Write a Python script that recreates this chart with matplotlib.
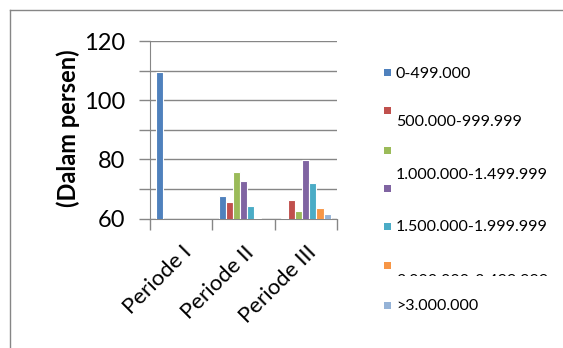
import numpy as np
import matplotlib.pyplot as plt
from matplotlib.lines import Line2D
from matplotlib.patches import Rectangle
from matplotlib.transforms import Bbox

# --- DATA ---
periods = ["Periode I", "Periode II", "Periode III"]
v_0_499 = [109.7, 67.6, 60.4]
v_500_999 = [0, 65.5, 66.4]
v_1000_1499 = [0, 75.7, 62.5]
v_purple = [0, 72.6, 79.8]
v_1500_1999 = [0, 64.4, 71.9]
v_2000_2499 = [0, 60.4, 63.5]
v_3000 = [0, 0, 61.5]
all_values = [v_0_499, v_500_999, v_1000_1499, v_purple,
              v_1500_1999, v_2000_2499, v_3000]
colors = ["#4F81BD", "#C0504D", "#9BBB59", "#8064A2", "#4BACC6", "#F79646", "#95B3D7"]
yticks = [60, 80, 100, 120]

plt.rcParams['font.family'] = ['Lato', 'DejaVu Sans']

W, H = 563, 348
fig = plt.figure(figsize=(W / 100, H / 100), dpi=100)
ax = fig.add_axes([150 / W, 1 - 218.7 / H, 187 / W, (218.7 - 41) / H])

# --- BARS ---
x = np.arange(len(periods))
slot = 0.114
for i, vals in enumerate(all_values):
    off = (i - 3) * slot
    ax.bar(x + off, vals, width=slot, color=colors[i], edgecolor="white",
           linewidth=0.8, zorder=3)

ax.set_ylim(60, 120)
ax.set_xlim(-0.5, 2.5)
ax.set_yticks(range(60, 121, 10))
ax.set_yticklabels([str(t) if t in yticks else "" for t in range(60, 121, 10)],
                   fontsize=17)
ax.grid(axis="y", color="#868686", linewidth=1, zorder=0)
ax.tick_params(axis="y", length=8, color="#868686", width=1, pad=10)

# x ticks at category boundaries, labels at centers
ax.set_xticks([-0.5, 0.5, 1.5, 2.5])
ax.set_xticklabels([])
ax.tick_params(axis="x", length=8, color="#868686", width=1)
ax.set_xticks(x, minor=True)
ax.set_xticklabels(periods, minor=True, rotation=45, ha="right",
                   rotation_mode="anchor", fontsize=16)
ax.tick_params(axis="x", which="minor", length=0, pad=17)

for s in ["top", "right"]:
    ax.spines[s].set_visible(False)
for s in ["left", "bottom"]:
    ax.spines[s].set_color("#868686")
ax.set_facecolor("none")

fig.text(68 / W, 1 - 128 / H, "(Dalam persen)", rotation=90, fontsize=17,
         fontweight="bold", ha="center", va="center")

# --- LEGEND (drawn by hand, keeps odd wrap of the original) ---
mk_y = [72.3, 110.7, 150, 188.3, 226.7, 265.7, 305]
lab_y = [74.3, 121.7, 175, None, 227.3, 281, 306]
labels = ["0-499.000", "500.000-999.999", "1.000.000-1.499.999", None,
          "1.500.000-1.999.999", "2.000.000-2.499.999", ">3.000.000"]
for c, my, ly, lab in zip(colors, mk_y, lab_y, labels):
    fig.patches.append(Rectangle((383.5 / W, 1 - (my + 3.5) / H), 7 / W, 7 / H,
                                 transform=fig.transFigure, facecolor=c,
                                 edgecolor="none"))
    if lab is None:
        continue
    t = fig.text(396 / W, 1 - ly / H, lab, fontsize=11.5, ha="left", va="center")
    if lab.startswith("2.000"):
        t.set_clip_box(Bbox.from_extents(0, H - 276, W, H))
        t.set_clip_on(True)

# frame of the chart area
fig.add_artist(Line2D([10 / W, 10 / W], [0, 1 - 10 / H], color="#868686",
                      linewidth=1, transform=fig.transFigure))
fig.add_artist(Line2D([10 / W, 1], [1 - 10 / H, 1 - 10 / H], color="#868686",
                      linewidth=1, transform=fig.transFigure))

fig.savefig("out.png", dpi=100)
